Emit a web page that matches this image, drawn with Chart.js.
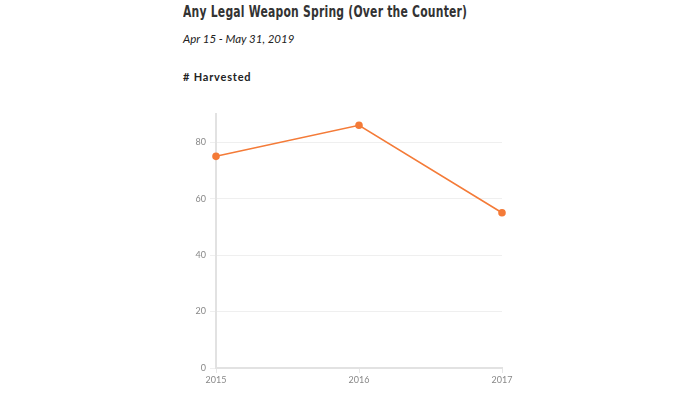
<!DOCTYPE html>
<html>
<head>
<meta charset="utf-8">
<script src="https://cdn.jsdelivr.net/npm/chart.js@4"></script>
<style>
  html, body { margin:0; padding:0; background:#fff; width:700px; height:394px; overflow:hidden; }
  .title { position:absolute; left:183px; top:2px; font-family:'DejaVu Sans Condensed',sans-serif; font-weight:bold; font-size:16px; letter-spacing:0.3px; color:#333; transform:scaleX(0.75); transform-origin:0 0; white-space:nowrap; }
  .sub { position:absolute; left:183px; top:32px; font-family:Lato,sans-serif; font-style:italic; font-size:11.5px; color:#222; }
  .lbl { position:absolute; left:183px; top:70px; font-family:Lato,sans-serif; font-weight:bold; font-size:11px; letter-spacing:0.8px; color:#222; }
  .wrap { position:absolute; left:180px; top:100px; width:340px; height:288px; }
</style>
</head>
<body>
<div class="title">Any Legal Weapon Spring (Over the Counter)</div>
<div class="sub">Apr 15 - May 31, 2019</div>
<div class="lbl"># Harvested</div>
<div class="wrap"><canvas id="chart"></canvas></div>
<script>
// Data
const years = ['2015', '2016', '2017'];
const harvested = [75, 86, 55];
const yTicks = [0, 20, 40, 60, 80];

new Chart(document.getElementById('chart'), {
  type: 'line',
  data: {
    labels: years,
    datasets: [{
      label: '# Harvested', data: harvested,
      borderColor: '#f47b38', backgroundColor: '#f47b38',
      borderWidth: 1.6, pointRadius: 3, pointHoverRadius: 4,
      tension: 0, fill: false
    }]
  },
  options: {
    responsive: true, maintainAspectRatio: false, animation: false,
    layout: { padding: { top: 14, right: 18, left: 0, bottom: 0 } },
    plugins: { legend: { display: false }, tooltip: { enabled: false } },
    scales: {
      x: {
        grid: { drawOnChartArea: false, color: '#e6e6e6', tickLength: 5 },
        border: { color: '#e2e2e2', width: 2 },
        ticks: { font: { family: 'Lato', size: 9 }, color: '#888', maxRotation: 0, padding: 2 },
        afterFit: s => { s.height = 20; }
      },
      y: {
        min: 0, max: 90,
        afterBuildTicks: s => { s.ticks = yTicks.map(v => ({ value: v })); },
        grid: { color: '#efefef', tickLength: 6 },
        border: { color: '#e2e2e2', width: 2 },
        ticks: { font: { family: 'Lato', size: 9 }, color: '#888', padding: 4 },
        afterFit: s => { s.width = 36; }
      }
    }
  }
});
</script>
</body>
</html>
